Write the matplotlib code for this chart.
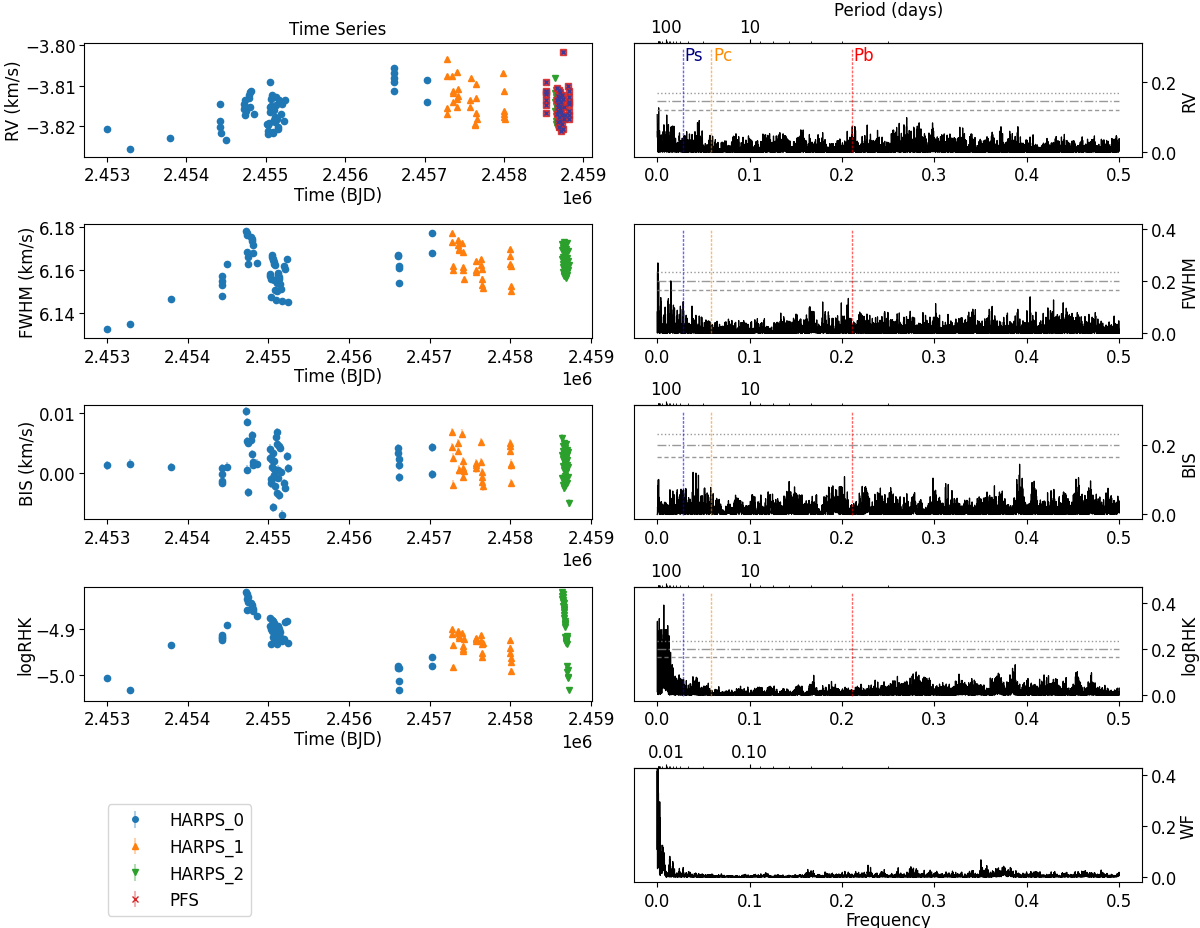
import numpy as np
import matplotlib.pyplot as plt
from matplotlib.colors import to_rgba
from matplotlib.transforms import blended_transform_factory

plt.rcParams['font.size'] = 12

# ---- time series data ----
t_h0 = [2453000, 2453285, 2453793,
        2454424, 2454425, 2454427, 2454430,
        2454492,
        2454727, 2454729, 2454734, 2454738, 2454741, 2454746, 2454788, 2454793, 2454799, 2454806, 2454811, 2454852,
        2455018, 2455021, 2455027, 2455033, 2455041, 2455046, 2455052, 2455058, 2455063, 2455069,
        2455074, 2455083, 2455087, 2455094, 2455101, 2455104, 2455112, 2455118, 2455123, 2455131,
        2455137, 2455148, 2455156, 2455167, 2455189, 2455206, 2455226, 2455243,
        2456609, 2456610, 2456613, 2456617, 2456620,
        2457028, 2457033]
rv_h0 = [-3.8207, -3.8258, -3.8230,
         -3.8145, -3.8188, -3.8204, -3.8218,
         -3.8236,
         -3.8146, -3.8158, -3.8173, -3.8152, -3.8137, -3.8164, -3.8131, -3.8123, -3.8152, -3.8117, -3.8113, -3.8170,
         -3.8195, -3.8199, -3.8220, -3.8213, -3.8193, -3.8166, -3.8154, -3.8092, -3.8151, -3.8133,
         -3.8129, -3.8123, -3.8218, -3.8216, -3.8160, -3.8185, -3.8179, -3.8191, -3.8149, -3.8128,
         -3.8183, -3.8203, -3.8207, -3.8137, -3.8170, -3.8146, -3.8187, -3.8135,
         -3.8055, -3.8069, -3.8081, -3.8092, -3.8114,
         -3.8086, -3.8142]
fwhm_h0 = [6.1329, 6.1353, 6.1468,
           6.1572, 6.1551, 6.1529, 6.1481,
           6.1630,
           6.1779, 6.1771, 6.1763, 6.1683, 6.1660, 6.1630, 6.1754, 6.1744, 6.1733, 6.1713, 6.1680, 6.1633,
           6.1581, 6.1572, 6.1475, 6.1560, 6.1668, 6.1660, 6.1652, 6.1645, 6.1637, 6.1630,
           6.1554, 6.1622, 6.1508, 6.1462, 6.1546, 6.1541, 6.1505, 6.1587, 6.1576, 6.1566,
           6.1557, 6.1534, 6.1511, 6.1459, 6.1617, 6.1607, 6.1651, 6.1455,
           6.1671, 6.1663, 6.1617, 6.1610, 6.1541,
           6.1771, 6.1678]
bis_h0 = [0.0013, 0.0016, 0.0010,
          0.0009, -0.0002, -0.0013, -0.0016,
          0.0011,
          0.0103, 0.0085, 0.0053, 0.0006, -0.0032, 0.0050, 0.0055, 0.0063, 0.0032, 0.0019, 0.0014, 0.0016,
          0.0041, 0.0026, -0.0010, -0.0017, 0.0022, 0.0010, -0.0057, 0.0034, 0.0020, 0.0007,
          -0.0003, -0.0007, -0.0022, 0.0060, -0.0033, 0.0069, 0.0048, 0.0006, -0.0008, -0.0037,
          0.0046, 0.0042, 0.0002, -0.0069, -0.0017, -0.0025, 0.0028, 0.0008,
          0.0042, 0.0033, 0.0023, 0.0013, -0.0007,
          0.0043, -0.0002]
rhk_h0 = [-5.0057, -5.0319, -4.9355,
          -4.9142, -4.9170, -4.9206, -4.9241,
          -4.8915,
          -4.8213, -4.8255, -4.8362, -4.8589, -4.8319, -4.8411, -4.8447, -4.8496, -4.8539, -4.8575, -4.8610, -4.8730,
          -4.8766, -4.8943, -4.9333, -4.9014, -4.8801, -4.9050, -4.8837, -4.9170, -4.8872, -4.9213,
          -4.8908, -4.9241, -4.8979, -4.9284, -4.9085, -4.9319, -4.9121, -4.8929, -4.8957, -4.9000,
          -4.9028, -4.9071, -4.9206, -4.9262, -4.9227, -4.8858, -4.8823, -4.9298,
          -4.9809, -4.9851, -5.0135, -5.0312, -4.9837,
          -4.9617, -4.9794]

t_h1 = [2457276, 2457279, 2457284, 2457288,
        2457349, 2457353, 2457358, 2457362,
        2457402, 2457406, 2457410, 2457415, 2457419,
        2457568, 2457573, 2457579,
        2457634, 2457638, 2457643, 2457647, 2457652, 2457656,
        2457991, 2457994, 2457998, 2458001, 2458004, 2458008]
rv_h1 = [-3.8033, -3.8075, -3.8156, -3.8171,
         -3.8077, -3.8142, -3.8118, -3.8113,
         -3.8067, -3.8134, -3.8153, -3.8126, -3.8108,
         -3.8152, -3.8137, -3.8081,
         -3.8195, -3.8199, -3.8097, -3.8132, -3.8168, -3.8183,
         -3.8068, -3.8113, -3.8162, -3.8170, -3.8179, -3.8184]
fwhm_h1 = [6.1771, 6.1730, 6.1617, 6.1599,
           6.1736, 6.1713, 6.1698, 6.1690,
           6.1724, 6.1683, 6.1614, 6.1599, 6.1557,
           6.1640, 6.1599, 6.1592,
           6.1649, 6.1622, 6.1607, 6.1561, 6.1531, 6.1516,
           6.1698, 6.1663, 6.1627, 6.1617, 6.1526, 6.1505]
bis_h1 = [0.0069, 0.0044, 0.0026, -0.0019,
          0.0037, 0.0050, 0.0005, 0.0006,
          0.0066, 0.0020, 0.0009, -0.0006, 0.0004,
          0.0017, 0.0013, 0.0008,
          0.0052, 0.0019, 0.0002, -0.0006, -0.0014, -0.0022,
          0.0050, 0.0045, 0.0037, 0.0016, 0.0013, -0.0016]
rhk_h1 = [-4.9014, -4.9121, -4.9355, -4.9830,
          -4.9050, -4.9099, -4.9156, -4.9191,
          -4.9099, -4.9369, -4.9426, -4.9482, -4.9227,
          -4.9206, -4.9227, -4.9255,
          -4.9142, -4.9262, -4.9333, -4.9525, -4.9617, -4.9298,
          -4.9241, -4.9404, -4.9511, -4.9638, -4.9723, -4.9900]

t_h2 = [2458642, 2458644, 2458645, 2458647, 2458649, 2458652, 2458653, 2458655, 2458658, 2458660,
        2458661, 2458664, 2458666, 2458668, 2458669, 2458672, 2458674, 2458676, 2458678, 2458679,
        2458682, 2458684, 2458686, 2458687, 2458690, 2458692, 2458694, 2458696, 2458698, 2458701,
        2458703, 2458705, 2458708, 2458711, 2458714, 2458729]
rv_h2 = [-3.8142, -3.8118, -3.8163, -3.8080, -3.8129, -3.8187, -3.8151, -3.8112, -3.8176, -3.8135,
         -3.8196, -3.8158, -3.8124, -3.8169, -3.8203, -3.8145, -3.8116, -3.8181, -3.8139, -3.8161,
         -3.8193, -3.8127, -3.8154, -3.8172, -3.8205, -3.8133, -3.8148, -3.8186, -3.8121, -3.8166,
         -3.8199, -3.8140, -3.8157, -3.8178, -3.8131, -3.8150]
fwhm_h2 = [6.1718, 6.1693, 6.1651, 6.1627, 6.1702, 6.1589, 6.1662, 6.1614, 6.1728, 6.1575,
           6.1640, 6.1686, 6.1603, 6.1657, 6.1571, 6.1632, 6.1709, 6.1596, 6.1668, 6.1620,
           6.1583, 6.1647, 6.1699, 6.1608, 6.1563, 6.1636, 6.1679, 6.1592, 6.1725, 6.1617,
           6.1656, 6.1579, 6.1641, 6.1688, 6.1600, 6.1625]
bis_h2 = [0.0058, 0.0031, -0.0008, 0.0024, 0.0046, -0.0019, 0.0012, 0.0037, -0.0024, 0.0029,
          0.0005, 0.0051, -0.0013, 0.0021, 0.0034, -0.0004, 0.0016, 0.0042, -0.0021, 0.0027,
          0.0009, 0.0033, -0.0010, 0.0025, 0.0048, 0.0002, 0.0018, 0.0039, -0.0016, 0.0030,
          0.0013, 0.0022, -0.0006, 0.0035, 0.0011, -0.0050]
rhk_h2 = [-4.8213, -4.8288, -4.8352, -4.8247, -4.8420, -4.8315, -4.8503, -4.8376, -4.8562, -4.8445,
          -4.8631, -4.8528, -4.8704, -4.8590, -4.8775, -4.8837, -4.8902, -4.8879, -4.8925, -4.8951,
          -4.9178, -4.9220, -4.9195, -4.9264, -4.9242, -4.9301, -4.9287, -4.9156, -4.9330, -4.9208,
          -4.9810, -4.9925, -5.0040, -5.0058, -4.9885, -5.0318]

t_pfs = [2458524, 2458526, 2458527, 2458529, 2458530, 2458532, 2458533,
         2458668, 2458671, 2458673, 2458676, 2458679, 2458681, 2458684, 2458686, 2458689, 2458692,
         2458695, 2458697, 2458700, 2458703, 2458706, 2458709, 2458712, 2458715, 2458718, 2458722,
         2458726, 2458730, 2458735, 2458740, 2458746, 2458752, 2458761, 2458770,
         2458744,
         2458812, 2458814, 2458815, 2458817, 2458818, 2458820, 2458821, 2458822]
rv_pfs = [-3.8121, -3.8092, -3.8147, -3.8113, -3.8168, -3.8137, -3.8117,
          -3.8137, -3.8170, -3.8106, -3.8154, -3.8191, -3.8125, -3.8162, -3.8146, -3.8202, -3.8111,
          -3.8179, -3.8134, -3.8158, -3.8187, -3.8117, -3.8150, -3.8213, -3.8129, -3.8166, -3.8142,
          -3.8195, -3.8123, -3.8174, -3.8133, -3.8207, -3.8152, -3.8183, -3.8172,
          -3.8016,
          -3.8100, -3.8146, -3.8113, -3.8174, -3.8129, -3.8183, -3.8142, -3.8162]

# typical uncertainties
rv_err = 0.0005
fwhm_err = 0.0010
bis_err = 0.0007
rhk_err = 0.005

# periodogram annotations
fap_rv = [0.168, 0.145, 0.120]
fap_fwhm = [0.234, 0.200, 0.167]
fap_bis = [0.232, 0.200, 0.166]
fap_rhk = [0.233, 0.200, 0.164]
planet_names = ['Ps', 'Pc', 'Pb']
planet_freqs = [0.0275, 0.0585, 0.2105]
planet_colors = ['blue', 'darkorange', 'red']
planet_text_colors = ['navy', 'darkorange', 'red']

insts = ['HARPS_0', 'HARPS_1', 'HARPS_2', 'PFS']
markers = ['o', '^', 'v', 'x']
colors = ['C0', 'C1', 'C2', 'C3']


def gls(t, y, err, freq):
    # generalised Lomb-Scargle (floating mean), normalised power
    w = 1.0 / err ** 2
    w = w / w.sum()
    Y = (w * y).sum()
    YY = (w * y * y).sum() - Y * Y
    out = np.empty(len(freq))
    step = 3000
    for i in range(0, len(freq), step):
        arg = 2 * np.pi * freq[i:i + step, None] * t[None, :]
        c, s = np.cos(arg), np.sin(arg)
        C = (w * c).sum(1)
        S = (w * s).sum(1)
        YC = (w * y * c).sum(1) - Y * C
        YS = (w * y * s).sum(1) - Y * S
        CC = (w * c * c).sum(1) - C * C
        SS = (w * s * s).sum(1) - S * S
        CS = (w * c * s).sum(1) - C * S
        D = CC * SS - CS ** 2
        out[i:i + step] = (SS * YC ** 2 + CC * YS ** 2 - 2 * CS * YC * YS) / (YY * D)
    return out


def combine(sets, err):
    tt, yy = [], []
    for t, y in sets:
        y = np.asarray(y, float)
        tt.append(np.asarray(t, float))
        yy.append(y - y.mean())
    tt = np.concatenate(tt)
    yy = np.concatenate(yy)
    return tt, yy, np.full(len(tt), err)


t_all = np.concatenate([t_h0, t_h1, t_h2, t_pfs]).astype(float)
t_all = t_all - t_all.min()
baseline = t_all.max()
freq = np.linspace(0.5 / baseline, 0.5, 15000)

per_rv = gls(*combine([(t_h0, rv_h0), (t_h1, rv_h1), (t_h2, rv_h2), (t_pfs, rv_pfs)], rv_err), freq)
per_fwhm = gls(*combine([(t_h0, fwhm_h0), (t_h1, fwhm_h1), (t_h2, fwhm_h2)], fwhm_err), freq)
per_bis = gls(*combine([(t_h0, bis_h0), (t_h1, bis_h1), (t_h2, bis_h2)], bis_err), freq)
per_rhk = gls(*combine([(t_h0, rhk_h0), (t_h1, rhk_h1), (t_h2, rhk_h2)], rhk_err), freq)
wf = np.abs(np.exp(2j * np.pi * freq[:, None] * t_all[None, :]).sum(1)) ** 2 / len(t_all) ** 2

fig = plt.figure(figsize=(12, 9.29), dpi=100)
gs = fig.add_gridspec(5, 2, left=0.07, right=0.952, top=0.953, bottom=0.0495,
                      hspace=0.59, wspace=0.082)

series = [
    ('RV (km/s)', [(t_h0, rv_h0), (t_h1, rv_h1), (t_h2, rv_h2), (t_pfs, rv_pfs)], rv_err,
     (-3.8277, -3.7993), [-3.82, -3.81, -3.80]),
    ('FWHM (km/s)', [(t_h0, fwhm_h0), (t_h1, fwhm_h1), (t_h2, fwhm_h2)], fwhm_err,
     (6.1287, 6.1812), [6.14, 6.16, 6.18]),
    ('BIS (km/s)', [(t_h0, bis_h0), (t_h1, bis_h1), (t_h2, bis_h2)], bis_err,
     (-0.0077, 0.0113), [0.0, 0.01]),
    ('logRHK', [(t_h0, rhk_h0), (t_h1, rhk_h1), (t_h2, rhk_h2)], rhk_err,
     (-5.055, -4.809), [-5.0, -4.9]),
]

for row, (lab, sets, err, ylim, yt) in enumerate(series):
    ax = fig.add_subplot(gs[row, 0])
    for k, (t, y) in enumerate(sets):
        if insts[k] == 'PFS':
            ax.errorbar(t, y, yerr=err, fmt='s', color='C3', ms=4.5, alpha=0.85,
                        ecolor=to_rgba('C3', 0.35), zorder=2)
            ax.plot(t, y, 'x', color='#3a3a9a', ms=3, mew=1, zorder=3)
        else:
            ax.errorbar(t, y, yerr=err, fmt=markers[k], color=colors[k], ms=4.5,
                        ecolor=to_rgba(colors[k], 0.35), zorder=2)
    ax.set_ylabel(lab, labelpad=1)
    ax.tick_params(axis='y', pad=2.5)
    ax.set_ylim(ylim)
    ax.set_yticks(yt)
    ax.set_xticks([2453000, 2454000, 2455000, 2456000, 2457000, 2458000, 2459000])
    ax.ticklabel_format(axis='x', useOffset=False)
    if row != 2:
        ax.set_xlabel('Time (BJD)', labelpad=1)
    if row == 0:
        ax.set_title('Time Series', fontsize=12)

# legend cell
ax_leg = fig.add_subplot(gs[4, 0])
ax_leg.axis('off')
handles = []
for k, name in enumerate(insts):
    h = ax_leg.errorbar([np.nan], [np.nan], yerr=[1], fmt=markers[k], color=colors[k], ms=4,
                        ecolor=to_rgba(colors[k], 0.35), label=name)
    handles.append(h)
fig.legend(handles=handles, labels=insts, loc='upper left',
           bbox_to_anchor=(0.083, 0.142), fontsize=12, handlelength=2.5)

# periodograms
minor_f = [1 / p for p in [4, 5, 6, 7, 8, 9, 20, 30, 40, 50, 60, 70, 80, 90,
                           200, 300, 400, 500, 600, 700, 800, 900]]
perio = [
    ('RV', per_rv, fap_rv, (-0.0125, 0.312), [0.0, 0.2]),
    ('FWHM', per_fwhm, fap_fwhm, (-0.018, 0.42), [0.0, 0.2, 0.4]),
    ('BIS', per_bis, fap_bis, (-0.014, 0.314), [0.0, 0.2]),
    ('logRHK', per_rhk, fap_rhk, (-0.024, 0.471), [0.0, 0.2, 0.4]),
    ('WF', wf, None, (-0.02, 0.427), [0.0, 0.2, 0.4]),
]
for row, (lab, pw, faps, ylim, yt) in enumerate(perio):
    ax = fig.add_subplot(gs[row, 1])
    ax.plot(freq, pw, color='k', lw=0.9)
    ax.set_xlim(-0.025, 0.525)
    ax.set_ylim(ylim)
    ax.set_yticks(yt)
    ax.yaxis.tick_right()
    ax.yaxis.set_label_position('right')
    ax.tick_params(axis='y', pad=2.5)
    ax.set_ylabel(lab, labelpad=2)
    if faps is not None:
        for lev, ls in zip(faps, [':', '-.', (0, (3, 2))]):
            ax.hlines(lev, 0, 0.5, colors='gray', linestyles=ls, lw=1, alpha=0.8)
        trans = blended_transform_factory(ax.transData, ax.transAxes)
        for name, f, c, tc in zip(planet_names, planet_freqs, planet_colors, planet_text_colors):
            ax.axvline(f, ymin=0.04, ymax=0.95, color=c, ls=(0, (2, 1)), lw=1, alpha=0.6)
            if row == 0:
                ax.text(f + 0.002, 0.97, name, color=tc, transform=trans, va='top', ha='left')
    if row != 1:
        sec = ax.secondary_xaxis('top')
        sec.set_xticks([0.01, 0.1])
        if lab == 'WF':
            sec.set_xticklabels(['0.01', '0.10'])
        else:
            sec.set_xticklabels(['100', '10'])
        sec.set_xticks(minor_f, minor=True)
        sec.tick_params(which='major', length=3, pad=2)
        sec.tick_params(which='minor', length=1.5)
        if row == 0:
            sec.set_xlabel('Period (days)', labelpad=2)
    if row == 4:
        ax.set_xlabel('Frequency', labelpad=1)

fig.savefig('out.png', dpi=100)
